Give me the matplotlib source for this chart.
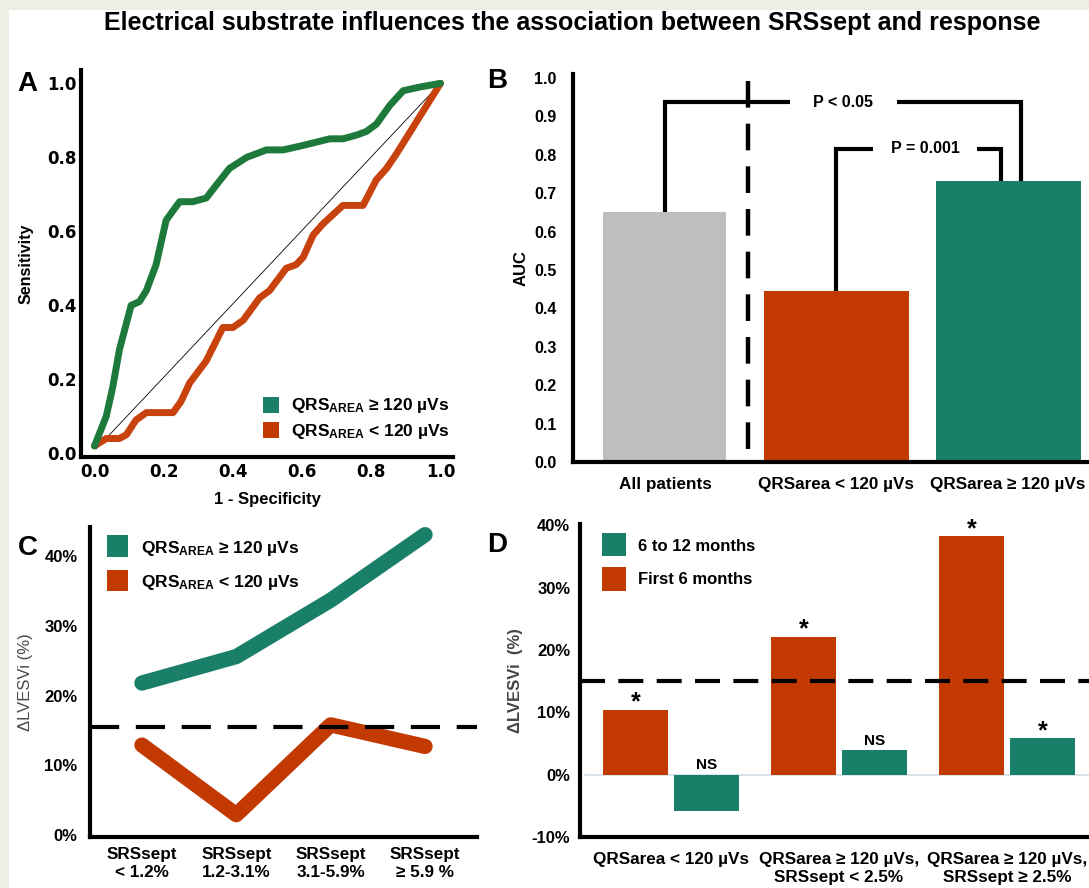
import matplotlib
matplotlib.use('Agg')
import matplotlib.pyplot as plt
from matplotlib.patches import Rectangle

# ---------------- data ----------------
# Panel A: ROC curves
roc_fpr_high = [0.0, 0.034, 0.053, 0.072, 0.106, 0.13, 0.15, 0.178, 0.207, 0.246, 0.284, 0.323,
                0.352, 0.39, 0.44, 0.497, 0.545, 0.593, 0.68, 0.718, 0.757, 0.786, 0.815, 0.853,
                0.892, 0.94, 1.0]
roc_tpr_high = [0.02, 0.10, 0.18, 0.28, 0.40, 0.41, 0.44, 0.51, 0.63, 0.68, 0.68, 0.69,
                0.725, 0.77, 0.80, 0.82, 0.82, 0.83, 0.85, 0.85, 0.86, 0.87, 0.89, 0.94,
                0.98, 0.99, 1.0]
roc_fpr_low = [0.0, 0.034, 0.072, 0.092, 0.12, 0.15, 0.227, 0.25, 0.275, 0.323, 0.371, 0.40,
               0.43, 0.477, 0.506, 0.554, 0.583, 0.603, 0.632, 0.66, 0.718, 0.776, 0.815,
               0.844, 0.873, 1.0]
roc_tpr_low = [0.02, 0.04, 0.04, 0.05, 0.09, 0.11, 0.11, 0.14, 0.19, 0.25, 0.34, 0.34,
               0.36, 0.42, 0.44, 0.50, 0.51, 0.53, 0.59, 0.62, 0.67, 0.67, 0.74,
               0.77, 0.81, 1.0]
roc_ticks = [0.0, 0.2, 0.4, 0.6, 0.8, 1.0]
roc_labels = ['QRS$_{\\mathbf{AREA}}$ ≥ 120 µVs', 'QRS$_{\\mathbf{AREA}}$ < 120 µVs']

# Panel B: AUC
auc_groups = ['All patients', 'QRSarea < 120 µVs', 'QRSarea ≥ 120 µVs']
auc_values = [0.652, 0.444, 0.731]
auc_ticks = [0.0, 0.1, 0.2, 0.3, 0.4, 0.5, 0.6, 0.7, 0.8, 0.9, 1.0]
p_texts = ['P < 0.05', 'P = 0.001']

# Panel C: dLVESVi by SRSsept quartile
srs_groups = ['SRSsept\n< 1.2%', 'SRSsept\n1.2-3.1%', 'SRSsept\n3.1-5.9%', 'SRSsept\n≥ 5.9 %']
dlv_high = [21.8, 25.6, 33.7, 43.1]
dlv_low = [12.9, 2.9, 15.8, 12.7]
cutoff_c = 15.5
c_ticks = [0, 10, 20, 30, 40]

# Panel D: timing of response
d_groups = ['QRSarea < 120 µVs', 'QRSarea ≥ 120 µVs,\nSRSsept < 2.5%', 'QRSarea ≥ 120 µVs,\nSRSsept ≥ 2.5%']
first6 = [10.3, 22.1, 38.2]
later6_12 = [-5.9, 3.9, 5.8]
first6_marks = ['*', '*', '*']
later_marks = ['NS', 'NS', '*']
cutoff_d = 15.0
d_ticks = [-10, 0, 10, 20, 30, 40]
d_legend = ['6 to 12 months', 'First 6 months']

# ---------------- style ----------------
GREEN_LINE = '#1E7A3A'
ORANGE_LINE = '#C8420E'
TEAL = '#1A7F69'
ORANGE = '#C23A02'
GRAY = '#BEBEBE'

plt.rcParams['font.family'] = ['Liberation Sans', 'DejaVu Sans']
plt.rcParams['font.weight'] = 'bold'
plt.rcParams['axes.labelweight'] = 'bold'
plt.rcParams['mathtext.fontset'] = 'custom'
plt.rcParams['mathtext.rm'] = 'Liberation Sans:bold'
plt.rcParams['mathtext.bf'] = 'Liberation Sans:bold'
plt.rcParams['mathtext.it'] = 'Liberation Sans:bold'

W, H = 1089, 888
fig = plt.figure(figsize=(W / 100, H / 100), dpi=100, facecolor='#EEEEE4')
fig.patches.append(Rectangle((9 / W, 0), 1, 1 - 10 / H, transform=fig.transFigure,
                             facecolor='white', edgecolor='none', zorder=-10))


def axes_px(l, t, r, b):
    ax = fig.add_axes([l / W, 1 - b / H, (r - l) / W, (b - t) / H])
    ax.patch.set_alpha(0)
    return ax


def ftext(x, y, s, **kw):
    return fig.text(x / W, 1 - y / H, s, **kw)


def fsquare(x0, y0, x1, y1, color):
    fig.add_artist(Rectangle((x0 / W, 1 - y1 / H), (x1 - x0) / W, (y1 - y0) / H,
                             transform=fig.transFigure, facecolor=color, edgecolor='none'))


def style_axes(ax, lw=3.0):
    for s in ['top', 'right']:
        ax.spines[s].set_visible(False)
    for s in ['left', 'bottom']:
        ax.spines[s].set_linewidth(lw)
        ax.spines[s].set_color('black')
    ax.tick_params(length=0)


# Title
ftext(572, 23, 'Electrical substrate influences the association between SRSsept and response',
      ha='center', va='center', fontsize=18, fontweight='bold')

# ---------------- Panel A ----------------
axA = axes_px(81, 70, 453, 457)
style_axes(axA, 3.0)
axA.plot([0.005, 1.0], [0.012, 1.0], color='black', lw=0.6, zorder=1)
axA.plot(roc_fpr_low, roc_tpr_low, color=ORANGE_LINE, lw=5, solid_joinstyle='round',
         solid_capstyle='round', zorder=2)
axA.plot(roc_fpr_high, roc_tpr_high, color=GREEN_LINE, lw=5, solid_joinstyle='round',
         solid_capstyle='round', zorder=3)
axA.set_xlim(-0.039, 1.036)
axA.set_ylim(-0.01, 1.036)
axA.set_xticks(roc_ticks)
axA.set_yticks(roc_ticks)
axA.set_xticklabels([f'{v:.1f}' for v in roc_ticks], fontfamily='DejaVu Sans', fontweight='bold', fontsize=12)
axA.set_yticklabels([f'{v:.1f}' for v in roc_ticks], fontfamily='DejaVu Sans', fontweight='bold', fontsize=12)
axA.tick_params(axis='y', pad=3)
axA.tick_params(axis='x', pad=4)
axA.set_xlabel('1 - Specificity', fontsize=12, labelpad=8)
axA.set_ylabel('Sensitivity', fontsize=11.5, labelpad=10)
ftext(27, 84, 'A', fontsize=20, fontweight='bold', ha='center', va='center')
fsquare(263, 397, 279, 413, TEAL)
fsquare(263, 422, 279, 438, ORANGE)
ftext(291, 405, roc_labels[0], fontsize=12.5, va='center')
ftext(291, 431, roc_labels[1], fontsize=12.5, va='center')

# ---------------- Panel B ----------------
axB = axes_px(573, 74, 1089, 462)
style_axes(axB, 3.0)
b_widths = [0.717, 0.845, 0.845]
b_colors = [GRAY, ORANGE, TEAL]
xb = list(range(len(auc_groups)))
axB.bar(xb, auc_values, width=b_widths, color=b_colors, zorder=2)
axB.set_xlim(-0.536, 2.472)
axB.set_ylim(0, 1.01)
axB.set_yticks(auc_ticks)
axB.set_yticklabels([f'{v:.1f}' for v in auc_ticks], fontsize=11.5)
axB.set_xticks(xb)
axB.set_xticklabels(auc_groups, fontsize=12.3)
axB.tick_params(axis='y', pad=12)
axB.tick_params(axis='x', pad=11)
axB.set_ylabel('AUC', fontsize=12, labelpad=4)
axB.plot([0.484, 0.484], [0.035, 0.995], color='black', lw=3.2, dashes=(6, 3.6), zorder=3)
# bracket P < 0.05
y1 = 0.937
bk = dict(color='black', lw=3.0, solid_capstyle='butt', solid_joinstyle='miter', zorder=4)
axB.plot([0.0, 0.0, 0.729], [auc_values[0], y1, y1], **bk)
axB.plot([1.353, 2.077, 2.077], [y1, y1, auc_values[2]], **bk)
axB.text(1.04, y1, p_texts[0], ha='center', va='center', fontsize=11.5)
# bracket P = 0.001
y2 = 0.815
axB.plot([1.0, 1.0, 1.21], [auc_values[1], y2, y2], **bk)
axB.plot([1.82, 1.96, 1.96], [y2, y2, auc_values[2]], **bk)
axB.text(1.516, y2, p_texts[1], ha='center', va='center', fontsize=11.5)
ftext(497, 81, 'B', fontsize=20, fontweight='bold', ha='center', va='center')

# ---------------- Panel C ----------------
axC = axes_px(90, 527, 477, 837)
style_axes(axC, 3.0)
xc = list(range(len(srs_groups)))
axC.plot(xc, dlv_high, color=TEAL, lw=11, solid_capstyle='round', solid_joinstyle='round', zorder=3)
axC.plot(xc, dlv_low, color=ORANGE, lw=11, solid_capstyle='round', solid_joinstyle='round', zorder=3)
axC.axhline(cutoff_c, color='black', lw=3.0, dashes=(7, 4), zorder=4)
axC.set_xlim(-0.55, 3.55)
axC.set_ylim(-0.3, 44.2)
axC.set_yticks(c_ticks)
axC.set_yticklabels([f'{v}%' for v in c_ticks], fontsize=12)
axC.set_xticks(xc)
axC.set_xticklabels(srs_groups, fontsize=12.3, linespacing=1.25)
axC.tick_params(axis='y', pad=9)
axC.tick_params(axis='x', pad=7)
axC.set_ylabel('ΔLVESVi (%)', fontsize=12, color='#4a4a4a', fontweight='normal', labelpad=8)
ftext(28, 548, 'C', fontsize=20, fontweight='bold', ha='center', va='center')
fsquare(107, 535, 128, 557, TEAL)
fsquare(107, 570, 128, 591, ORANGE)
ftext(141, 548, roc_labels[0], fontsize=12.5, va='center')
ftext(141, 583, roc_labels[1], fontsize=12.5, va='center')

# ---------------- Panel D ----------------
axD = axes_px(580, 524, 1089, 837)
style_axes(axD, 3.0)
xd = list(range(len(d_groups)))
off = 0.211
bw = 0.387
axD.bar([x - off for x in xd], first6, width=bw, color=ORANGE, zorder=2)
axD.bar([x + off for x in xd], later6_12, width=bw, color=TEAL, zorder=2)
axD.axhline(0, xmin=0.01, color='#D3DEE6', lw=1.2, zorder=1)
axD.axhline(cutoff_d, color='black', lw=3.0, dashes=(6, 3.2), zorder=4)
for x, v, m in zip(xd, first6, first6_marks):
    axD.text(x - off, v - 0.7, m, ha='center', va='bottom', fontsize=18, clip_on=False)
for x, v, m in zip(xd, later6_12, later_marks):
    base = max(v, 0)
    if m == '*':
        axD.text(x + off, base - 0.7, m, ha='center', va='bottom', fontsize=18)
    else:
        axD.text(x + off, base + 0.45, m, ha='center', va='bottom', fontsize=11)
axD.set_xlim(-0.542, 2.488)
axD.set_ylim(-9.3, 40.2)
axD.set_yticks(d_ticks)
axD.set_yticklabels([f'{v}%' for v in d_ticks], fontsize=12)
axD.set_xticks(xd)
axD.set_xticklabels(d_groups, fontsize=12.3, linespacing=1.2, va='top')
axD.tick_params(axis='y', pad=7)
axD.tick_params(axis='x', pad=11)
axD.set_ylabel('ΔLVESVi  (%)', fontsize=12, color='#444444', labelpad=6)
ftext(497, 545, 'D', fontsize=20, fontweight='bold', ha='center', va='center')
fsquare(602, 533, 626, 556, TEAL)
fsquare(602, 567, 626, 591, ORANGE)
ftext(638, 546, d_legend[0], fontsize=12, va='center')
ftext(638, 580, d_legend[1], fontsize=12, va='center')

fig.savefig('out.png', dpi=100, facecolor=fig.get_facecolor())
